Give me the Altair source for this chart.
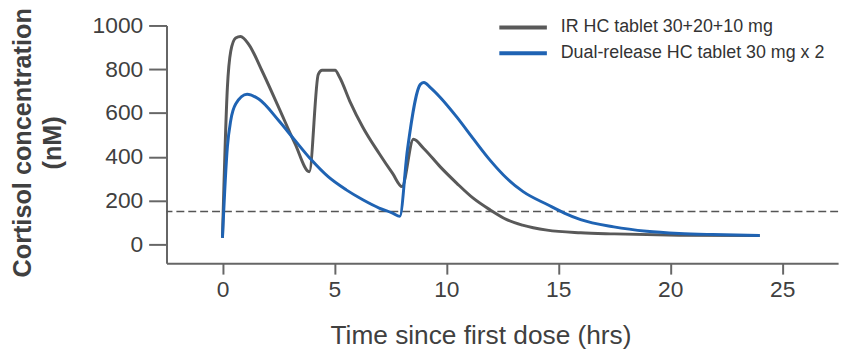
import altair as alt
import pandas as pd

ir_label = "IR HC tablet 30+20+10 mg"
dr_label = "Dual-release HC tablet 30 mg x 2"

ir_time = [0.0, 0.22, 0.37, 0.59, 0.81, 1.18, 1.77, 2.51, 3.24, 3.88, 4.28, 4.45, 5.03,
           5.24, 5.68, 6.27, 7.0, 7.6, 8.02, 8.53, 9.0, 9.73, 10.47, 11.2, 11.95, 12.7,
           13.4, 14.5, 16.0, 17.5, 20.4, 24.0]
ir_conc = [30, 716, 882, 943, 950, 913, 792, 626, 460, 332, 777, 795, 795,
           762, 656, 535, 415, 324, 264, 480, 437, 354, 279, 211, 158, 113,
           88, 65, 53, 48, 42, 40]

dr_time = [0.0, 0.22, 0.37, 0.59, 1.1, 1.62, 2.51, 3.24, 3.98, 4.72, 5.53, 6.27, 7.0,
           7.6, 7.92, 8.26, 8.85, 9.0, 9.29, 9.73, 10.47, 11.2, 11.95, 12.7, 13.43,
           14.53, 15.27, 16.0, 17.48, 18.95, 20.4, 21.9, 24.0]
dr_conc = [30, 445, 566, 641, 686, 664, 566, 475, 385, 309, 249, 204, 166,
           143, 128, 430, 732, 739, 716, 671, 581, 483, 385, 302, 241,
           181, 143, 113, 80, 60, 50, 45, 41]

threshold = [150]
x_ticks = [0, 5, 10, 15, 20, 25]
y_ticks = [0, 200, 400, 600, 800, 1000]

df = pd.concat([
    pd.DataFrame({"time": ir_time, "conc": ir_conc, "series": ir_label}),
    pd.DataFrame({"time": dr_time, "conc": dr_conc, "series": dr_label}),
], ignore_index=True)

FONT = "Liberation Sans"
TXT = "#404040"
AX = "#666666"

x_enc = alt.X("time:Q",
              scale=alt.Scale(domain=[-2.5, 27.5], nice=False, zero=False),
              axis=alt.Axis(values=x_ticks, title="Time since first dose (hrs)",
                            tickSize=11, labelPadding=5, labelFontSize=23,
                            titleFontSize=26.5, titleFontWeight="normal",
                            titleX=317, titleY=73, titleAlign="center",
                            titleBaseline="middle"))
y_enc = alt.Y("conc:Q",
              scale=alt.Scale(domain=[-86, 1000], nice=False, zero=False),
              axis=alt.Axis(values=y_ticks, format="d",
                            title=["Cortisol concentration", "(nM)"],
                            tickSize=18, labelPadding=6, labelFontSize=23,
                            titleFontSize=25.5, titleFontWeight="bold",
                            titleAngle=-90, titleX=-157, titleY=118,
                            titleAlign="center", titleBaseline="top",
                            titleLineHeight=30))

lines = alt.Chart(df).mark_line(strokeWidth=3, interpolate="monotone").encode(
    x=x_enc,
    y=y_enc,
    color=alt.Color("series:N",
                    scale=alt.Scale(domain=[ir_label, dr_label],
                                    range=["#595959", "#1f63b3"]),
                    legend=alt.Legend(title=None, orient="none", legendX=350, legendY=-8,
                                      symbolType="M-3,0H3", symbolSize=256,
                                      symbolStrokeWidth=4, labelFontSize=18,
                                      labelFont=FONT, labelColor="#333333",
                                      labelOffset=28, rowPadding=7, labelLimit=0)),
)

rule = alt.Chart(pd.DataFrame({"y": threshold})).mark_rule(
    strokeDash=[8, 4], color="#555555", strokeWidth=1.6
).encode(y=alt.Y("y:Q"))

chart = alt.layer(rule, lines).properties(
    width=678, height=240,
    autosize="none",
    padding={"left": 160, "top": 16, "right": 11, "bottom": 88},
).configure_axis(
    domainColor=AX, domainWidth=2, tickColor=AX, tickWidth=2, grid=False,
    labelFont=FONT, titleFont=FONT, labelColor=TXT, titleColor=TXT,
).configure_view(stroke=None)

chart.save("out.html", embed_options={"renderer": "svg", "actions": False})
